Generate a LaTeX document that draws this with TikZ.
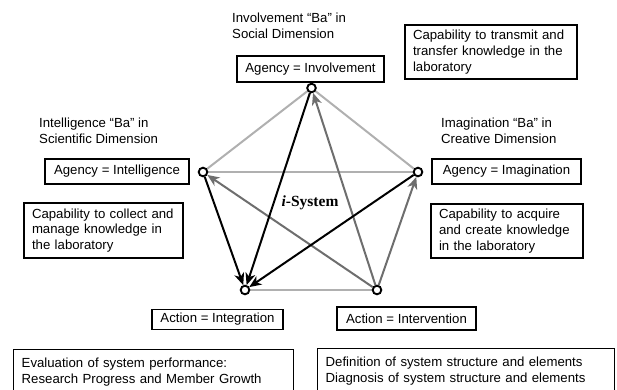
\documentclass[tikz,border=0pt]{standalone}
\usepackage{fontspec}
\setmainfont{Liberation Sans}
\newfontfamily\serifx{Liberation Serif}
\usetikzlibrary{arrows.meta}
\definecolor{lightg}{HTML}{B0B0B0}
\definecolor{darkg}{HTML}{6E6E6E}
\begin{document}
\begin{tikzpicture}[x=1pt,y=-1pt,
  every node/.style={font=\fontsize{13.2}{15.8}\selectfont},
  box/.style={draw, line width=1.4pt, inner sep=0pt, align=center},
  tbox/.style={draw, line width=1.4pt, inner xsep=8pt, inner ysep=0pt, align=left},
  title/.style={inner sep=0pt, align=left, anchor=west},
  pt/.style={circle, minimum size=10pt, inner sep=0pt},
  light/.style={draw=lightg, line width=2pt},
  tipx/.style={-{Stealth[length=12pt,width=10pt,inset=3.5pt]}},
  darkarr/.style={draw=darkg, line width=2pt, tipx},
  blackarr/.style={draw=black, line width=2pt, tipx},
]
\useasboundingbox (0,0) rectangle (617,389);
\clip (0,0) rectangle (617,389);

% titles
\node[title] (tinv) at (232,26) {Involvement “Ba” in\\Social Dimension};
\node[title] (tint) at (39,130.5) {Intelligence “Ba” in\\Scientific Dimension};
\node[title] (timg) at (441,130.5) {Imagination “Ba” in\\Creative Dimension};

% boxes
\node[box, minimum width=147pt, minimum height=26pt] (binv) at (310.5,69) {Agency = Involvement};
\node[box, minimum width=144pt, minimum height=25pt] (bint) at (117,171.5) {Agency = Intelligence};
\node[box, minimum width=149pt, minimum height=25pt] (bimg) at (506.5,171.5) {Agency = Imagination};
\node[box, minimum width=131pt, minimum height=20pt] (bintg) at (217.5,319.3) {Action = Integration};
\node[box, minimum width=139pt, minimum height=23pt] (bintv) at (406.5,318.6) {Action = Intervention};

\node[tbox, text width=156pt, minimum height=54pt] (c1) at (491,52) {Capability to transmit and\\transfer knowledge in the\\laboratory};
\node[tbox, text width=143pt, minimum height=55pt] (c2) at (103.5,230.5) {Capability to collect and\\manage knowledge in\\the laboratory};
\node[tbox, text width=136pt, minimum height=54pt] (c3) at (507,231) {Capability to acquire\\and create knowledge\\in the laboratory};

\node[tbox, text width=264pt, minimum height=44pt, anchor=north west] (ev) at (13,349) {Evaluation of system performance:\\Research Progress and Member Growth};
\node[tbox, text width=281pt, minimum height=44pt, anchor=north west] (df) at (317,348) {Definition of system structure and elements\\Diagnosis of system structure and elements};

% points
\node[pt] (T) at (311.5,88) {};
\node[pt] (L) at (203,172) {};
\node[pt] (R) at (418,172) {};
\node[pt] (BL) at (245,290) {};
\node[pt] (BR) at (377,290) {};

% light edges
\draw[light] (T) -- (L);
\draw[light] (T) -- (R);
\draw[light] (L) -- (R);
\draw[light] (BL) -- (BR);

% dark gray arrows
\draw[darkarr] (BR) -- (T);
\draw[darkarr] (BR) -- (L);
\draw[darkarr] (BR) -- (R);

% black arrows
\draw[blackarr] (L) -- (BL);
\draw[blackarr] (T) -- (BL);
\draw[blackarr] (R) -- (BL);

% circles on top
\foreach \n in {T,L,R,BL,BR}
  \draw[line width=1.9pt, fill=white] (\n) circle (4.3pt);

\node[font=\serifx\fontsize{15.5}{18}\selectfont\bfseries] (isys) at (310,203) {\textit{i}-System};
\end{tikzpicture}
\end{document}
